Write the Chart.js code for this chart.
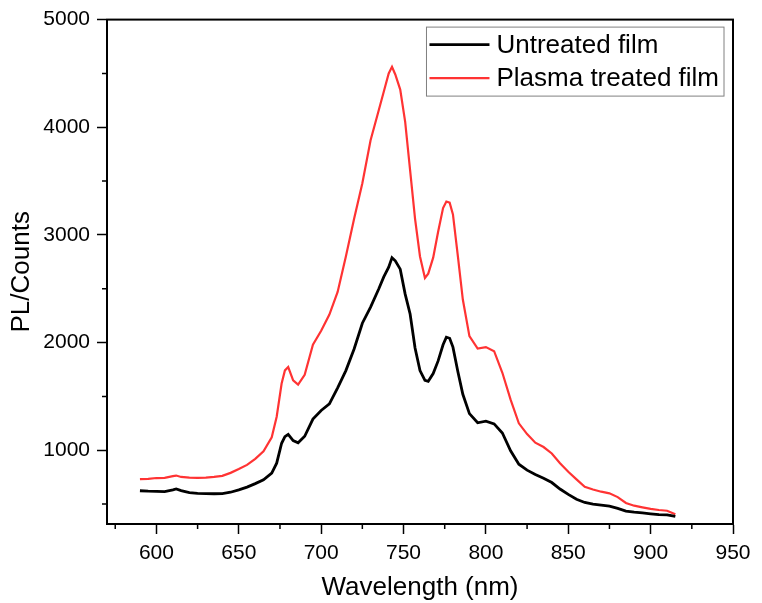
<!DOCTYPE html>
<html>
<head>
<meta charset="utf-8">
<script src="https://cdn.jsdelivr.net/npm/chart.js@4.4.1/dist/chart.umd.min.js"></script>
<style>
  body { margin: 0; background: #fff; }
</style>
</head>
<body>
<canvas id="plChart" width="762" height="603"></canvas>
<script>
var wavelength = [590, 595, 600, 605, 610, 612, 615, 620, 625, 630, 635, 640, 645, 650, 655, 660, 665, 670, 673, 676, 678, 680, 683, 686, 690, 695, 700, 705, 710, 715, 720, 725, 730, 735, 738, 741, 743, 745, 748, 751, 754, 757, 760, 763, 765, 768, 771, 774, 776, 778, 780, 783, 786, 790, 795, 800, 805, 810, 815, 820, 825, 830, 835, 840, 845, 850, 855, 860, 865, 870, 875, 880, 885, 890, 895, 900, 905, 910, 915];

var untreated = [624, 620, 618, 616, 632, 640, 625, 606, 600, 598, 596, 598, 610, 632, 658, 690, 725, 788, 880, 1065, 1126, 1148, 1090, 1070, 1130, 1290, 1370, 1430, 1580, 1740, 1940, 2180, 2330, 2500, 2610, 2700, 2789, 2760, 2682, 2450, 2266, 1950, 1740, 1650, 1640, 1712, 1830, 1980, 2050, 2040, 1958, 1730, 1520, 1340, 1255, 1270, 1245, 1160, 995, 870, 815, 775, 740, 700, 640, 590, 545, 515, 500, 490, 480, 460, 435, 425, 418, 410, 402, 400, 385];

var plasmaTreated = [732, 735, 742, 744, 760, 765, 752, 745, 744, 746, 752, 762, 790, 825, 864, 920, 990, 1120, 1311, 1620, 1742, 1773, 1650, 1610, 1700, 1980, 2110, 2260, 2470, 2800, 3150, 3480, 3880, 4160, 4330, 4500, 4561, 4490, 4350, 4050, 3600, 3150, 2800, 2600, 2640, 2789, 3030, 3250, 3310, 3300, 3190, 2800, 2400, 2060, 1945, 1958, 1920, 1720, 1470, 1250, 1150, 1070, 1030, 970, 880, 800, 730, 660, 635, 615, 600, 565, 510, 485, 470, 455, 445, 438, 405];

var seriesNames = ['Untreated film', 'Plasma treated film'];
var seriesColors = ['#000000', '#ff3333'];
var xTicks = [600, 650, 700, 750, 800, 850, 900, 950];
var yTicks = [1000, 2000, 3000, 4000, 5000];

var FONT = "'Liberation Sans', Arial, sans-serif";

function points(ys) {
  return wavelength.map(function (w, i) { return { x: w, y: ys[i] }; });
}

// box round the plot, minor ticks, legend inside the plot
var framePlugin = {
  id: 'frame',
  afterDraw: function (chart) {
    var ctx = chart.ctx, a = chart.chartArea;
    var xs = chart.scales.x, ys = chart.scales.y;
    ctx.save();
    ctx.strokeStyle = '#000';
    ctx.lineWidth = 2;
    ctx.strokeRect(a.left, a.top, a.right - a.left, a.bottom - a.top);

    ctx.lineWidth = 1.5;
    ctx.beginPath();
    for (var v = 575; v < 950; v += 50) {
      var px = xs.getPixelForValue(v);
      ctx.moveTo(px, a.bottom);
      ctx.lineTo(px, a.bottom + 5);
    }
    for (var u = 500; u < 5000; u += 1000) {
      var py = ys.getPixelForValue(u);
      ctx.moveTo(a.left, py);
      ctx.lineTo(a.left - 5, py);
    }
    ctx.stroke();

    // legend
    ctx.font = '26px ' + FONT;
    var ds = chart.data.datasets;
    var tw = 0;
    ds.forEach(function (d) { tw = Math.max(tw, ctx.measureText(d.label).width); });
    var w = 3 + 60 + 7 + tw + 5, h = 69;
    var bx = a.right - 9 - w, by = a.top + 7.5;
    ctx.fillStyle = '#fff';
    ctx.fillRect(bx, by, w, h);
    ctx.strokeStyle = '#808080';
    ctx.lineWidth = 1;
    ctx.strokeRect(bx, by, w, h);
    ds.forEach(function (d, i) {
      var cy = by + 17.5 + i * 33.5;
      ctx.strokeStyle = d.borderColor;
      ctx.lineWidth = d.borderWidth;
      ctx.beginPath();
      ctx.moveTo(bx + 3, cy);
      ctx.lineTo(bx + 63, cy);
      ctx.stroke();
      ctx.fillStyle = '#000';
      ctx.textBaseline = 'middle';
      ctx.fillText(d.label, bx + 70, cy + 1);
    });
    ctx.restore();
  }
};

new Chart(document.getElementById('plChart'), {
  type: 'line',
  data: {
    datasets: [
      { label: seriesNames[0], data: points(untreated), borderColor: seriesColors[0], borderWidth: 2.8, pointRadius: 0, tension: 0 },
      { label: seriesNames[1], data: points(plasmaTreated), borderColor: seriesColors[1], borderWidth: 2.2, pointRadius: 0, tension: 0 }
    ]
  },
  options: {
    responsive: false,
    animation: false,
    layout: { padding: { left: 0, right: 29, top: 17, bottom: 0 } },
    plugins: { legend: { display: false }, tooltip: { enabled: false } },
    scales: {
      x: {
        type: 'linear',
        min: 570,
        max: 950,
        afterFit: function (s) { s.height = 79; },
        afterBuildTicks: function (s) { s.ticks = xTicks.map(function (v) { return { value: v }; }); },
        border: { display: true, color: '#000', width: 2 },
        grid: { drawOnChartArea: false, drawTicks: true, tickLength: 10, tickColor: '#000', tickWidth: 1.5 },
        ticks: { color: '#000', padding: 7, autoSkip: false, maxRotation: 0, font: { family: FONT, size: 21 },
          callback: function (v) { return String(v); } },
        title: { display: true, text: 'Wavelength (nm)', color: '#000', padding: { top: 0, bottom: 0 }, font: { family: FONT, size: 26 } }
      },
      y: {
        min: 315,
        max: 5000,
        afterFit: function (s) { s.width = 107; },
        afterBuildTicks: function (s) { s.ticks = yTicks.map(function (v) { return { value: v }; }); },
        border: { display: true, color: '#000', width: 2 },
        grid: { drawOnChartArea: false, drawTicks: true, tickLength: 10, tickColor: '#000', tickWidth: 1.5 },
        ticks: { color: '#000', padding: 7, font: { family: FONT, size: 21 },
          callback: function (v) { return String(v); } },
        title: { display: true, text: 'PL/Counts', color: '#000', padding: { top: 6, bottom: 0 }, font: { family: FONT, size: 26 } }
      }
    }
  },
  plugins: [framePlugin]
});
</script>
</body>
</html>
